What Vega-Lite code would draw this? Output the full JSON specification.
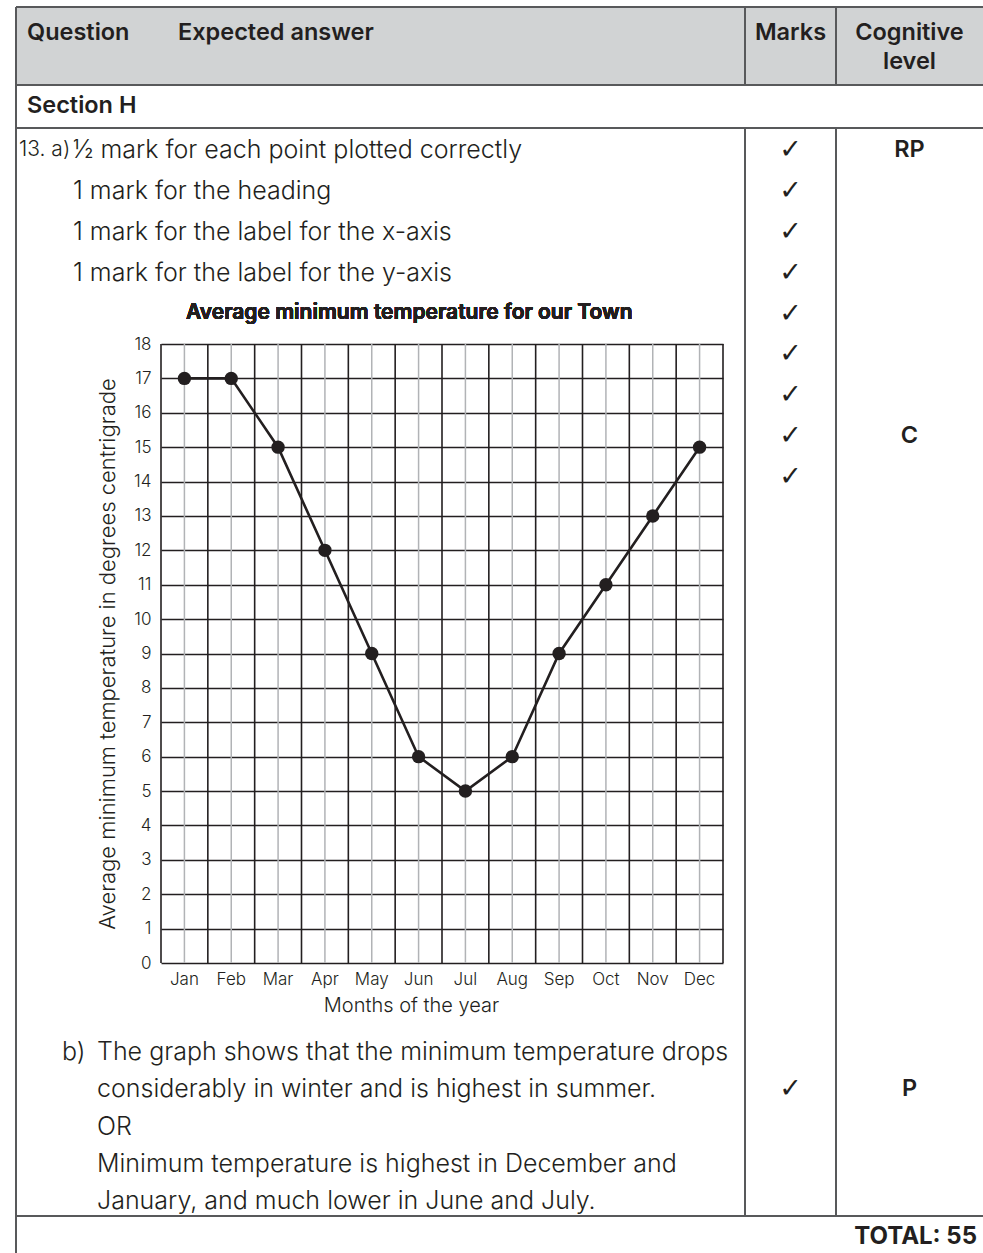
{
  "$schema": "https://vega.github.io/schema/vega-lite/v6.json",
  "width": 983,
  "height": 1253,
  "autosize": {"type": "none"},
  "padding": 0,
  "background": "white",
  "config": {
    "view": {"stroke": null},
    "font": "Inter",
    "text": {"color": "#231f20"}
  },
  "resolve": {
    "scale": {"x": "independent", "y": "independent"},
    "axis": {"x": "independent", "y": "independent"}
  },
  "layer": [
    {
      "data": {
        "values": [
          {"kind": "fill", "c0": 0, "c1": 3, "r0": 0, "r1": 1},
          {"kind": "line", "c0": 0, "c1": 3, "r0": 0, "r1": 0},
          {"kind": "line", "c0": 0, "c1": 3, "r0": 1, "r1": 1},
          {"kind": "line", "c0": 0, "c1": 3, "r0": 2, "r1": 2},
          {"kind": "line", "c0": 0, "c1": 3, "r0": 3, "r1": 3},
          {"kind": "line", "c0": 0, "c1": 0, "r0": 0, "r1": 4},
          {"kind": "line", "c0": 1, "c1": 1, "r0": 0, "r1": 1},
          {"kind": "line", "c0": 2, "c1": 2, "r0": 0, "r1": 1},
          {"kind": "line", "c0": 1, "c1": 1, "r0": 2, "r1": 3},
          {"kind": "line", "c0": 2, "c1": 2, "r0": 2, "r1": 3}
        ]
      },
      "encoding": {
        "x": {"field": "c0", "type": "quantitative", "axis": null,
              "scale": {"domain": [0, 1, 2, 3], "range": [16, 745, 836, 983], "zero": false, "nice": false}},
        "x2": {"field": "c1"},
        "y": {"field": "r0", "type": "quantitative", "axis": null,
              "scale": {"domain": [0, 1, 2, 3, 4], "range": [7, 85, 128, 1216, 1253], "zero": false, "nice": false}},
        "y2": {"field": "r1"}
      },
      "layer": [
        {"transform": [{"filter": "datum.kind === 'fill'"}],
         "mark": {"type": "rect", "color": "#d1d3d4"}},
        {"transform": [{"filter": "datum.kind === 'line'"}],
         "mark": {"type": "rule", "color": "#58595b", "strokeWidth": 2}}
      ]
    },
    {
      "data": {
        "values": [
          {"month": "Jan", "temp": 17},
          {"month": "Feb", "temp": 17},
          {"month": "Mar", "temp": 15},
          {"month": "Apr", "temp": 12},
          {"month": "May", "temp": 9},
          {"month": "Jun", "temp": 6},
          {"month": "Jul", "temp": 5},
          {"month": "Aug", "temp": 6},
          {"month": "Sep", "temp": 9},
          {"month": "Oct", "temp": 11},
          {"month": "Nov", "temp": 13},
          {"month": "Dec", "temp": 15}
        ]
      },
      "encoding": {
        "x": {
          "field": "month", "type": "ordinal", "sort": null,
          "scale": {"type": "band", "domain": ["Jan", "Feb", "Mar", "Apr", "May", "Jun", "Jul", "Aug", "Sep", "Oct", "Nov", "Dec"],
                    "range": [161, 723], "paddingInner": 0, "paddingOuter": 0},
          "axis": {
            "title": "Months of the year", "orient": "bottom", "offset": -290, "titleX": 411,
            "grid": false, "domain": false, "ticks": false, "labelAngle": 0,
            "labelFont": "Inter", "labelFontSize": 17, "labelFontWeight": 300, "labelColor": "#231f20", "labelPadding": 8,
            "titleFont": "Inter", "titleFontSize": 20, "titleFontWeight": 300, "titleColor": "#231f20", "titlePadding": 8
          }
        },
        "y": {
          "field": "temp", "type": "quantitative",
          "scale": {"domain": [0, 18], "range": [963, 344], "nice": false, "zero": false},
          "axis": {
            "title": "Average minimum temperature in degrees centrigrade", "orient": "left", "offset": -161,
            "tickCount": 18, "grid": true, "gridColor": "#231f20", "gridWidth": 1.6, "gridOpacity": 1,
            "domain": false, "ticks": false,
            "labelFont": "Inter", "labelFontSize": 17, "labelFontWeight": 300, "labelColor": "#231f20", "labelPadding": 10,
            "titleFont": "Inter", "titleFontSize": 22, "titleFontWeight": 300, "titleColor": "#231f20", "titlePadding": 14
          }
        }
      },
      "layer": [
        {"mark": {"type": "rule", "color": "#b1b3b6", "strokeWidth": 1.5},
         "encoding": {"y": {"datum": 0}, "y2": {"datum": 18}}},
        {"mark": {"type": "rule", "color": "#231f20", "strokeWidth": 1.6},
         "encoding": {"x": {"field": "month", "type": "ordinal", "bandPosition": 0},
                      "y": {"datum": 0}, "y2": {"datum": 18}}},
        {"transform": [{"filter": "datum.month === 'Dec'"}],
         "mark": {"type": "rule", "color": "#231f20", "strokeWidth": 1.6},
         "encoding": {"x": {"field": "month", "type": "ordinal", "bandPosition": 1},
                      "y": {"datum": 0}, "y2": {"datum": 18}}},
        {"mark": {"type": "line", "color": "#231f20", "strokeWidth": 2.6}},
        {"mark": {"type": "point", "filled": true, "size": 180, "color": "#231f20", "opacity": 1}},
        {"mark": {"type": "text", "fontSize": 21, "fontWeight": 600, "align": "center", "baseline": "middle", "color": "#231f20"},
         "encoding": {"x": {"datum": "Jun", "bandPosition": 0.3}, "y": {"datum": 18.9},
                      "text": {"value": "Average minimum temperature for our Town"}}}
      ]
    },
    {
      "data": {
        "values": [
          {"text": "Question", "role": "head", "col": 0, "line": 1},
          {"text": "Expected answer", "role": "headAnswer", "col": 0, "line": 1},
          {"text": "Marks", "role": "center", "col": 1.5, "line": 1},
          {"text": "Cognitive", "role": "center", "col": 2.5, "line": 1},
          {"text": "level", "role": "center", "col": 2.5, "line": 2},
          {"text": "Section H", "role": "head", "col": 0, "line": 3},
          {"text": "13. a)", "role": "number", "col": 0, "line": 4},
          {"text": "½ mark for each point plotted correctly", "role": "answerA", "col": 0, "line": 4},
          {"text": "1 mark for the heading", "role": "answerA", "col": 0, "line": 5},
          {"text": "1 mark for the label for the x-axis", "role": "answerA", "col": 0, "line": 6},
          {"text": "1 mark for the label for the y-axis", "role": "answerA", "col": 0, "line": 7},
          {"text": "✓", "role": "check", "col": 1.5, "line": 4},
          {"text": "✓", "role": "check", "col": 1.5, "line": 5},
          {"text": "✓", "role": "check", "col": 1.5, "line": 6},
          {"text": "✓", "role": "check", "col": 1.5, "line": 7},
          {"text": "✓", "role": "check", "col": 1.5, "line": 8},
          {"text": "✓", "role": "check", "col": 1.5, "line": 9},
          {"text": "✓", "role": "check", "col": 1.5, "line": 10},
          {"text": "✓", "role": "check", "col": 1.5, "line": 11},
          {"text": "✓", "role": "check", "col": 1.5, "line": 12},
          {"text": "RP", "role": "center", "col": 2.5, "line": 4},
          {"text": "C", "role": "center", "col": 2.5, "line": 11},
          {"text": "b)", "role": "numberB", "col": 0, "line": 13},
          {"text": "The graph shows that the minimum temperature drops", "role": "answerB", "col": 0, "line": 13},
          {"text": "considerably in winter and is highest in summer.", "role": "answerB", "col": 0, "line": 14},
          {"text": "OR", "role": "answerB", "col": 0, "line": 15},
          {"text": "Minimum temperature is highest in December and", "role": "answerB", "col": 0, "line": 16},
          {"text": "January, and much lower in June and July.", "role": "answerB", "col": 0, "line": 17},
          {"text": "✓", "role": "check", "col": 1.5, "line": 14},
          {"text": "P", "role": "center", "col": 2.5, "line": 14},
          {"text": "TOTAL: 55", "role": "total", "col": 3, "line": 18}
        ]
      },
      "encoding": {
        "x": {"field": "col", "type": "quantitative", "axis": null,
              "scale": {"domain": [0, 1, 2, 3], "range": [16, 745, 836, 983], "zero": false, "nice": false}},
        "y": {"field": "line", "type": "quantitative", "axis": null,
              "scale": {"domain": [1, 2, 3, 4, 12, 13, 17, 18], "range": [33, 62, 106, 150, 477, 1052, 1201, 1237], "zero": false, "nice": false}},
        "text": {"field": "text"}
      },
      "layer": [
        {"transform": [{"filter": "datum.role === 'head'"}],
         "mark": {"type": "text", "align": "left", "baseline": "middle", "dx": 11, "fontSize": 23.5, "fontWeight": 600}},
        {"transform": [{"filter": "datum.role === 'headAnswer'"}],
         "mark": {"type": "text", "align": "left", "baseline": "middle", "dx": 162, "fontSize": 23.5, "fontWeight": 600}},
        {"transform": [{"filter": "datum.role === 'center'"}],
         "mark": {"type": "text", "align": "center", "baseline": "middle", "fontSize": 23.5, "fontWeight": 600}},
        {"transform": [{"filter": "datum.role === 'total'"}],
         "mark": {"type": "text", "align": "right", "baseline": "middle", "dx": -6, "fontSize": 24, "fontWeight": 700}},
        {"transform": [{"filter": "datum.role === 'check'"}],
         "mark": {"type": "text", "align": "center", "baseline": "middle", "font": "DejaVu Sans", "fontSize": 27, "fontWeight": "bold"}},
        {"transform": [{"filter": "datum.role === 'number'"}],
         "mark": {"type": "text", "align": "left", "baseline": "middle", "dx": 3, "fontSize": 21, "fontWeight": 300}},
        {"transform": [{"filter": "datum.role === 'answerA'"}],
         "mark": {"type": "text", "align": "left", "baseline": "middle", "dx": 57, "fontSize": 25, "fontWeight": 300}},
        {"transform": [{"filter": "datum.role === 'numberB'"}],
         "mark": {"type": "text", "align": "left", "baseline": "middle", "dx": 46, "fontSize": 25, "fontWeight": 300}},
        {"transform": [{"filter": "datum.role === 'answerB'"}],
         "mark": {"type": "text", "align": "left", "baseline": "middle", "dx": 81, "fontSize": 25, "fontWeight": 300}}
      ]
    }
  ]
}
